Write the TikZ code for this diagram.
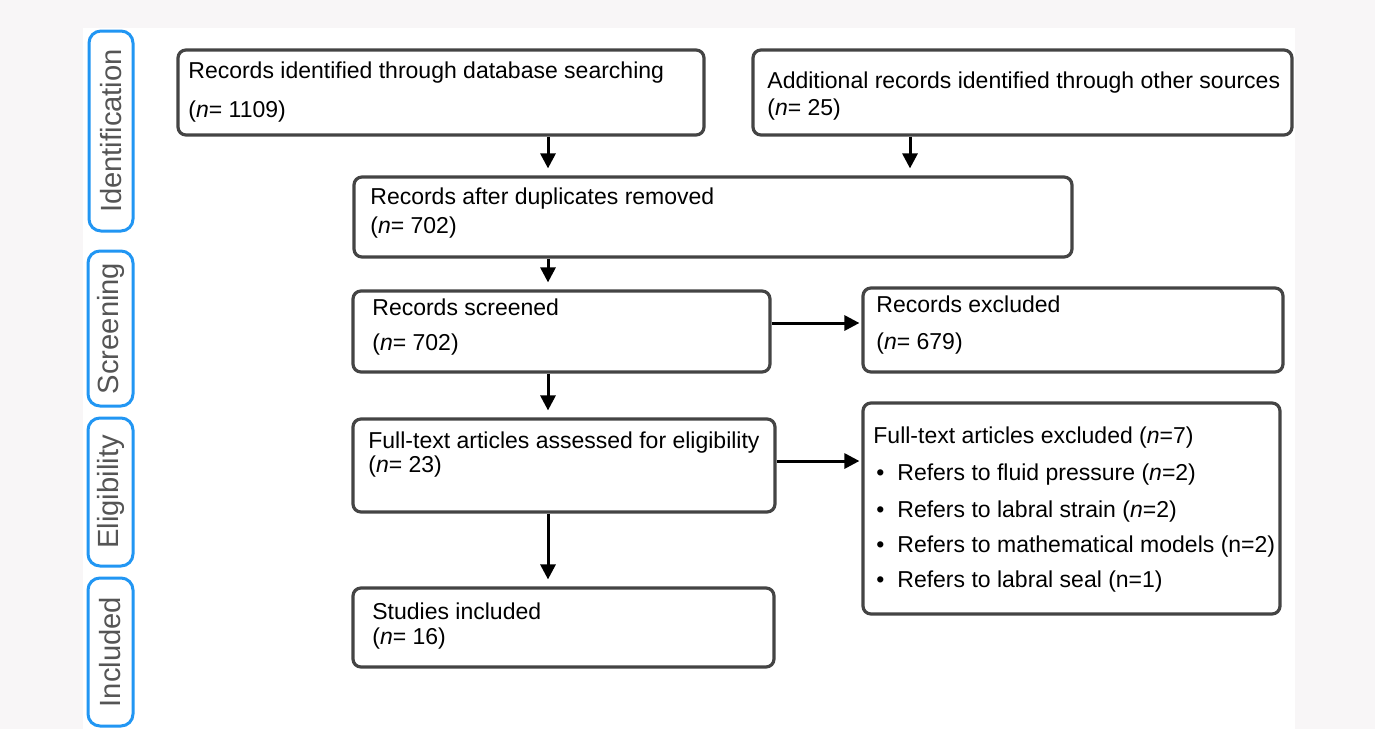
\documentclass[tikz,border=0pt]{standalone}
\usepackage{fontspec}
\setmainfont{Liberation Sans}
\usetikzlibrary{arrows.meta, fit}

\definecolor{pagegray}{HTML}{F8F6F7}
\definecolor{phaseblue}{HTML}{2196F3}
\definecolor{boxgray}{HTML}{444444}
\definecolor{labelgray}{HTML}{555555}

\tikzset{
  phase/.style={draw=phaseblue, line width=1.5pt, rounded corners=6pt, inner sep=0pt},
  phasetext/.style={rotate=90, text=labelgray, inner sep=0pt, font=\fontsize{14.6}{16}\selectfont},
  flowbox/.style={draw=boxgray, line width=1.6pt, rounded corners=4pt, inner sep=0pt},
  boxtext/.style={anchor=base west, inner sep=0pt, font=\fontsize{11.5}{14}\selectfont},
  arr/.style={-{Triangle[length=7.5pt,width=7.5pt]}, line width=1.5pt, shorten >=3.5pt},
}

\begin{document}
\begin{tikzpicture}[x=0.5pt, y=-0.5pt]
    \fill[pagegray] (0,0) rectangle (1375,729);
    \fill[white] (83,28) rectangle (1295,729);
    \useasboundingbox (0,0) rectangle (1375,729);

    % phase labels
    \node[phase, fit={(89,31) (133,231)}] (ident) {};
    \node[phase, fit={(88,251) (133,406)}] (screen) {};
    \node[phase, fit={(88,418) (133,566)}] (elig) {};
    \node[phase, fit={(88,578) (133,726)}] (incl) {};
    \node[phasetext] at (ident.center) {Identification};
    \node[phasetext] at (screen.center) {Screening};
    \node[phasetext] at (elig.center) {Eligibility};
    \node[phasetext] at (incl.center) {Included};

    % boxes
    \node[flowbox, fit={(178,50) (704,135)}] (dbsearch) {};
    \node[flowbox, fit={(753,50) (1292,135)}] (othersrc) {};
    \node[flowbox, fit={(354,177) (1072,257)}] (dedup) {};
    \node[flowbox, fit={(353,291) (770,372)}] (screened) {};
    \node[flowbox, fit={(863,288) (1283,372)}] (excluded) {};
    \node[flowbox, fit={(353,419) (775,512)}] (fulltext) {};
    \node[flowbox, fit={(863,403) (1280,614)}] (ftexcl) {};
    \node[flowbox, fit={(353,588) (774,667)}] (included) {};

    % box texts
    \node[boxtext] at (188,78) {Records identified through database searching};
    \node[boxtext] at (188,117) {(\textit{n}= 1109)};
    \node[boxtext] at (767,88) {Additional records identified through other sources};
    \node[boxtext] at (767,115) {(\textit{n}= 25)};
    \node[boxtext] at (370,204) {Records after duplicates removed};
    \node[boxtext] at (370,233) {(\textit{n}= 702)};
    \node[boxtext] at (372,315) {Records screened};
    \node[boxtext] at (372,350) {(\textit{n}= 702)};
    \node[boxtext] at (876,312) {Records excluded};
    \node[boxtext] at (876,349) {(\textit{n}= 679)};
    \node[boxtext] at (368,448) {Full-text articles assessed for eligibility};
    \node[boxtext] at (368,472) {(\textit{n}= 23)};
    \node[boxtext] at (873,443) {Full-text articles excluded (\textit{n}=7)};
    \node[boxtext] at (876,480) {\textbullet};
    \node[boxtext] at (897,480) {Refers to fluid pressure (\textit{n}=2)};
    \node[boxtext] at (876,517) {\textbullet};
    \node[boxtext] at (897,517) {Refers to labral strain (\textit{n}=2)};
    \node[boxtext] at (876,552) {\textbullet};
    \node[boxtext] at (897,552) {Refers to mathematical models (n=2)};
    \node[boxtext] at (876,587) {\textbullet};
    \node[boxtext] at (897,587) {Refers to labral seal (n=1)};
    \node[boxtext] at (372,619) {Studies included};
    \node[boxtext] at (372,644) {(\textit{n}= 16)};

    % arrows
    \coordinate (spine) at (548,0);
    \coordinate (side) at (910,0);
    \coordinate (scrrow) at (0,323);
    \coordinate (fullrow) at (0,461);
    \draw[arr] (dbsearch.south -| spine) -- (dedup.north -| spine);
    \draw[arr] (othersrc.south -| side) -- (dedup.north -| side);
    \draw[arr] (dedup.south -| spine) -- (screened.north -| spine);
    \draw[arr] (screened.south -| spine) -- (fulltext.north -| spine);
    \draw[arr] (fulltext.south -| spine) -- (included.north -| spine);
    \draw[arr, shorten >=1pt] (screened.east |- scrrow) -- (excluded.west |- scrrow);
    \draw[arr, shorten >=1pt] (fulltext.east |- fullrow) -- (ftexcl.west |- fullrow);
\end{tikzpicture}
\end{document}
